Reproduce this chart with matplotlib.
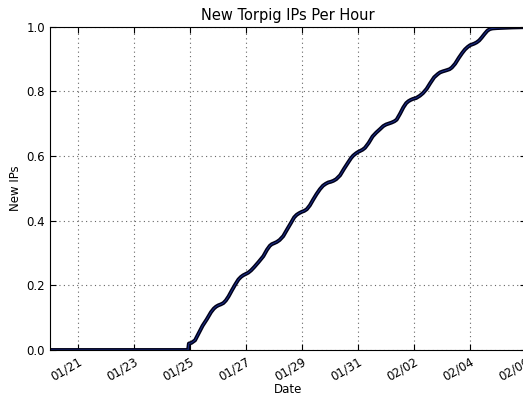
import matplotlib
matplotlib.use("Agg")
import matplotlib.pyplot as plt
import matplotlib.dates as mdates
import numpy as np
from datetime import datetime, timedelta

# Days after 2010-01-20 00:00 and cumulative fraction of new IPs
day_offsets = [0.0, 4.93, 4.96, 5.05, 5.18, 5.30, 5.45, 5.60, 5.75, 5.85, 5.93, 6.01,
               6.10, 6.19, 6.28, 6.38, 6.50, 6.62, 6.73, 6.82, 6.90, 6.99, 7.08, 7.18,
               7.30, 7.45, 7.62, 7.75, 7.85, 7.92, 8.00, 8.10, 8.20, 8.33, 8.45, 8.60,
               8.72, 8.81, 8.90, 8.99, 9.08, 9.17, 9.28, 9.40, 9.52, 9.64, 9.75, 9.85,
               9.94, 10.03, 10.12, 10.22, 10.36, 10.50, 10.65, 10.75, 10.83, 10.93, 11.00,
               11.07, 11.16, 11.25, 11.38, 11.52, 11.65, 11.79, 11.90, 12.00, 12.10, 12.20,
               12.30, 12.38, 12.50, 12.62, 12.72, 12.80, 12.88, 12.96, 13.08, 13.21, 13.32,
               13.45, 13.58, 13.72, 13.85, 13.93, 14.02, 14.17, 14.27, 14.35, 14.47, 14.60,
               14.72, 14.82, 14.92, 15.00, 15.06, 15.15, 15.24, 15.33, 15.42, 15.52, 15.62,
               15.71, 15.80, 15.95, 16.50, 17.00]
new_ips = [0.0, 0.0, 0.020, 0.022, 0.030, 0.050, 0.075, 0.095, 0.117, 0.128, 0.134, 0.138,
           0.141, 0.145, 0.153, 0.166, 0.185, 0.203, 0.218, 0.226, 0.231, 0.235, 0.239, 0.246,
           0.257, 0.272, 0.290, 0.310, 0.322, 0.327, 0.330, 0.334, 0.340, 0.352, 0.370, 0.392,
           0.410, 0.418, 0.423, 0.427, 0.430, 0.435, 0.447, 0.465, 0.482, 0.497, 0.508, 0.514,
           0.518, 0.520, 0.523, 0.528, 0.540, 0.560, 0.580, 0.593, 0.601, 0.608, 0.612,
           0.615, 0.619, 0.625, 0.640, 0.660, 0.672, 0.683, 0.692, 0.697, 0.700, 0.703,
           0.707, 0.712, 0.730, 0.750, 0.763, 0.769, 0.773, 0.776, 0.779, 0.786, 0.794,
           0.807, 0.825, 0.843, 0.853, 0.858, 0.861, 0.865, 0.868, 0.873, 0.885, 0.903,
           0.918, 0.929, 0.937, 0.942, 0.944, 0.947, 0.951, 0.957, 0.966, 0.977, 0.987,
           0.992, 0.994, 0.995, 0.997, 0.998]

start = datetime(2010, 1, 20)
dates = [start + timedelta(days=d) for d in day_offsets]

title = "New Torpig IPs Per Hour"
xlabel = "Date"
ylabel = "New IPs"

fig = plt.figure(figsize=(5.23, 4.00), dpi=100)
ax = fig.add_axes([50/523, 50/400, 476/523, 323.5/400])

ax.plot(dates, new_ips, color="#000018", lw=2.8, solid_capstyle="round", solid_joinstyle="round")
ax.plot(dates, new_ips, color="#1c2f8c", lw=0.7, solid_joinstyle="round")

ax.set_xlim(datetime(2010, 1, 20), datetime(2010, 2, 6))
ax.set_ylim(0, 1.0)
ax.xaxis.set_major_locator(mdates.DayLocator(bymonthday=[21, 23, 25, 27, 29, 31, 2, 4, 6]))
ax.xaxis.set_major_formatter(mdates.DateFormatter("%m/%d"))
ax.set_yticks(np.arange(0, 1.01, 0.2))
ax.yaxis.set_major_formatter(matplotlib.ticker.FormatStrFormatter("%.1f"))

ax.grid(True, linestyle=(0, (1, 3)), color="#666666", linewidth=0.8)
ax.tick_params(direction="in", labelsize=8.5, length=4, top=True, right=True)
for lbl in ax.get_xticklabels():
    lbl.set_rotation(30)
    lbl.set_ha("right")
    lbl.set_rotation_mode("anchor")

ax.set_title(title, fontsize=10.5, pad=5)
ax.set_xlabel(xlabel, fontsize=8.5, labelpad=0)
ax.set_ylabel(ylabel, fontsize=8.5, labelpad=3)

fig.savefig("out.png", dpi=100)
